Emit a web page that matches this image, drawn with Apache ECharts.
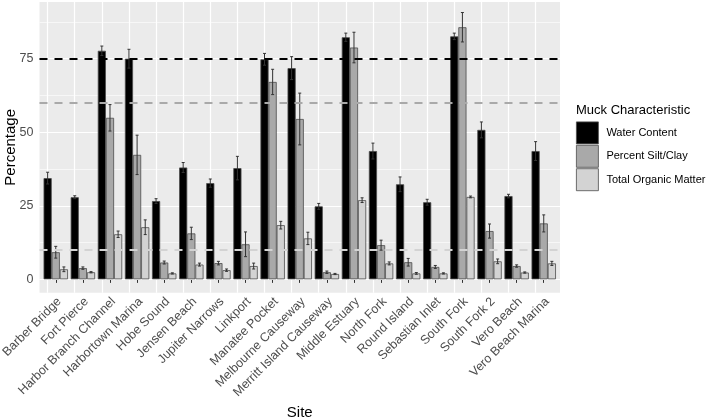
<!DOCTYPE html>
<html><head><meta charset="utf-8">
<script src="https://cdn.jsdelivr.net/npm/echarts@6/dist/echarts.min.js"></script>
<style>html,body{margin:0;padding:0;background:#fff}#c{width:707px;height:419px}</style>
</head><body><div id="c"></div>
<script>
const sites = ['Barber Bridge','Fort Pierce','Harbor Branch Channel','Harbortown Marina','Hobe Sound','Jensen Beach','Jupiter Narrows','Linkport','Manatee Pocket','Melbourne Causeway','Merritt Island Causeway','Middle Estuary','North Fork','Round Island','Sebastian Inlet','South Fork','South Fork 2','Vero Beach','Vero Beach Marina'];
const waterContent   = [34.4, 27.9, 77.7, 75.0, 26.6, 38.0, 32.7, 37.8, 74.8, 71.8, 24.8, 82.3, 43.6, 32.3, 26.2, 82.6, 50.8, 28.3, 43.6];
const waterContentSE = [2.0, 0.5, 1.6, 3.2, 0.8, 1.7, 1.4, 4.0, 2.0, 3.9, 1.0, 1.4, 2.7, 2.5, 1.0, 1.1, 2.7, 0.6, 3.2];
const siltClay       = [9.2, 3.8, 54.9, 42.3, 5.7, 15.6, 5.5, 11.9, 67.1, 54.5, 2.4, 78.8, 11.6, 5.8, 4.2, 85.7, 16.4, 4.5, 19.0];
const siltClaySE     = [2.0, 0.4, 4.5, 6.7, 0.5, 2.1, 0.6, 4.2, 4.3, 8.8, 0.4, 5.2, 1.7, 1.3, 0.5, 5.0, 2.4, 0.4, 2.9];
const organicMatter  = [3.4, 2.4, 15.3, 17.7, 2.0, 5.0, 3.1, 4.5, 18.4, 13.9, 1.8, 26.9, 5.4, 2.0, 2.0, 28.0, 6.1, 2.3, 5.4];
const organicMatterSE= [0.8, 0.2, 1.1, 2.5, 0.2, 0.5, 0.4, 1.0, 1.3, 2.1, 0.2, 0.8, 0.5, 0.3, 0.2, 0.3, 0.8, 0.2, 0.7];
const yTicks = [0, 25, 50, 75];
const yMinorTicks = [12.5, 37.5, 62.5, 87.5];
const thresholds = [75, 60, 10];
const seriesNames = ['Water Content', 'Percent Silt/Clay', 'Total Organic Matter'];

const FONT = '"Liberation Sans", Arial, sans-serif';
const idx = sites.map((s, i) => i);
const fills = ['#000000', '#a9a9a9', '#d3d3d3'];
const thrColors = ['#000000', '#a9a9a9', '#d3d3d3'];

function barSeries(k, vals, extra) {
  return Object.assign({
    type: 'bar', name: seriesNames[k], z: 2,
    data: vals.map((v, i) => [i, v]),
    barWidth: '30%', barGap: '0%',
    itemStyle: { color: fills[k], borderColor: '#4d4d4d', borderWidth: 0.8 },
    emphasis: { disabled: true }
  }, extra || {});
}
function errSeries(k, vals, se, off) {
  return {
    type: 'custom', name: seriesNames[k] + ' SE', z: 4, silent: true,
    data: vals.map((v, i) => [i, v, se[i]]),
    encode: { x: 0, y: 1 },
    renderItem(params, api) {
      const x = api.value(0) + off, v = api.value(1), s = api.value(2);
      const top = api.coord([x, v + s]), bot = api.coord([x, v - s]);
      const hw = api.size([0.055, 0])[0];
      const st = { stroke: '#333333', lineWidth: 1 };
      return { type: 'group', children: [
        { type: 'line', shape: { x1: top[0], y1: top[1], x2: bot[0], y2: bot[1] }, style: st },
        { type: 'line', shape: { x1: top[0] - hw, y1: top[1], x2: top[0] + hw, y2: top[1] }, style: st },
        { type: 'line', shape: { x1: bot[0] - hw, y1: bot[1], x2: bot[0] + hw, y2: bot[1] }, style: st }
      ]};
    }
  };
}

const gridLines = []
  .concat(yTicks.map(v => ({ yAxis: v, lineStyle: { color: '#ffffff', width: 1.2, type: 'solid' } })))
  .concat(yMinorTicks.map(v => ({ yAxis: v, lineStyle: { color: '#ffffff', width: 0.6, type: 'solid' } })))
  .concat(idx.map(v => ({ xAxis: v, lineStyle: { color: '#ffffff', width: 1.2, type: 'solid' } })));

const thrLines = thresholds.map((v, k) => ({ yAxis: v, lineStyle: { color: thrColors[k], width: 2, type: [8, 7] } }));

const chart = echarts.init(document.getElementById('c'), null, { renderer: 'canvas' });
chart.setOption({
  animation: false,
  textStyle: { fontFamily: FONT },
  title: { text: 'Muck Characteristic', left: 576, top: 104, padding: 0,
    textStyle: { fontFamily: FONT, fontSize: 13, fontWeight: 'normal', color: '#000' } },
  legend: {
    data: seriesNames, orient: 'vertical', left: 576, top: 121.5, padding: 0,
    itemWidth: 22, itemHeight: 22, itemGap: 0.6, icon: 'rect',
    itemStyle: { borderColor: '#4d4d4d', borderWidth: 0.8 },
    textStyle: { fontFamily: FONT, fontSize: 11, color: '#000', padding: [0, 0, 0, 3] },
    selectedMode: false
  },
  grid: { left: 39.5, right: 147, top: 2, bottom: 126.3, show: true, backgroundColor: '#ebebeb', borderWidth: 0,
    containLabel: false, outerBoundsMode: 'none' },
  xAxis: {
    type: 'value', min: -0.6, max: 18.6,
    splitLine: { show: false }, axisLine: { show: false },
    axisTick: { show: true, customValues: idx, length: 3.6, lineStyle: { color: '#333333', width: 1 } },
    axisLabel: { customValues: idx, formatter: v => sites[Math.round(v)], rotate: 45, fontSize: 12.5, color: '#4d4d4d', margin: 10.5, padding: [0, -5, 0, 0], fontFamily: FONT },
    name: 'Site', nameLocation: 'middle', nameGap: 112.5, nameMoveOverlap: false,
    nameTextStyle: { fontSize: 15, color: '#000', fontFamily: FONT }
  },
  yAxis: {
    type: 'value', min: -4.56, max: 94.28,
    splitLine: { show: false }, axisLine: { show: false },
    axisTick: { show: true, customValues: yTicks, length: 3.6, lineStyle: { color: '#333333', width: 1 } },
    axisLabel: { customValues: yTicks, fontSize: 12.5, color: '#4d4d4d', margin: 6, fontFamily: FONT },
    name: 'Percentage', nameLocation: 'middle', nameGap: 21, nameRotate: 90, nameMoveOverlap: false,
    nameTextStyle: { fontSize: 15, color: '#000', fontFamily: FONT }
  },
  series: [
    barSeries(0, waterContent, { markLine: { silent: true, symbol: 'none', z: 1, label: { show: false }, data: gridLines } }),
    barSeries(1, siltClay, { markLine: { silent: true, symbol: 'none', z: 5, label: { show: false }, data: thrLines } }),
    barSeries(2, organicMatter),
    errSeries(0, waterContent, waterContentSE, -0.3),
    errSeries(1, siltClay, siltClaySE, 0),
    errSeries(2, organicMatter, organicMatterSE, 0.3)
  ]
});
</script></body></html>
